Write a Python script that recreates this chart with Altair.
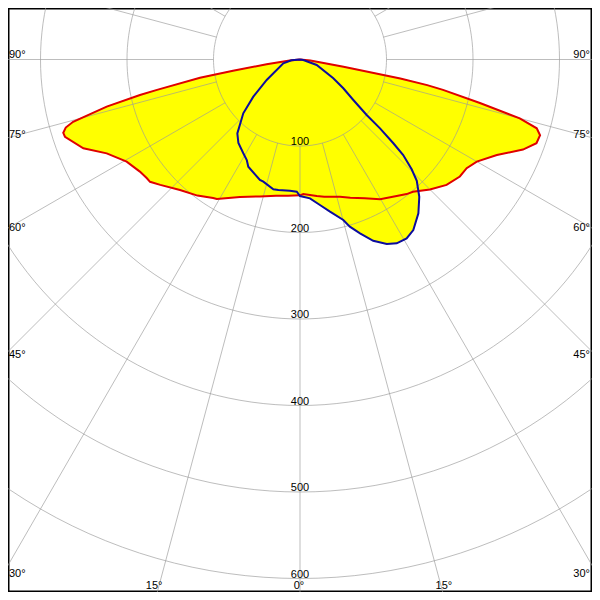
import altair as alt
import pandas as pd
import numpy as np

# ---- Data (angle from nadir in degrees, intensity in cd) ----
# C0 - C180 plane (red, filled yellow)
red_angle = [-90, -85, -81.8, -80.5, -79.7, -78, -77.5, -76.3, -74.65, -73.8, -72.8, -71.8,
             -67.7, -64.1, -59.5, -55, -52.2, -50.8, -48.1, -42.6, -37, -32.1, -30.8, -23.6,
             -16.3, -10, -5, 0, 1.4, 7, 10, 16.25, 20, 25, 29.8, 35.3, 38.4, 40.5, 45, 49.45,
             53.8, 56.9, 60, 64.1, 68, 70.5, 72.5, 73.8, 75, 76.4, 78, 78.6, 79.3, 79.5, 80.6,
             85, 90]
red_cd = [0, 12, 39, 78.5, 117.5, 169, 189.5, 230, 272, 282, 286.5, 286,
          270.7, 248.4, 232.6, 226, 224, 223.7, 217, 205, 197, 189, 187.8, 173.4,
          165, 160, 158, 157, 155.5, 159, 161, 165.2, 170, 177, 186.2, 193.4, 198.5, 201, 212.4, 223,
          229, 230, 236, 253, 278, 290, 291, 285, 263, 214, 169, 150, 118, 98, 51,
          12, 0]

# C90 - C270 plane (blue)
blue_angle = [-90, -85, -77.2, -58.4, -51.45, -46.5, -40.3, -36.4, -31.15, -27.9, -25.75,
              -18.4, -16.7, -11.6, -9.4, -4.4, -1.4, 0, 4.1, 7.8, 11.15, 15.1, 16.6, 19.05,
              22, 25.2, 27.75, 30.8, 33.6, 37.6, 41, 43.9, 45.5, 47.2, 48.1, 49.3, 50.2, 52.8,
              56.4, 60.6, 71.8, 81.4, 90]
blue_cd = [0, 10, 19.8, 45.2, 69, 90.4, 112, 120, 126.7, 131.5, 137.6,
           146.8, 147.5, 153.2, 153, 152.1, 152.9, 157.8, 160.9, 169.8, 179.3, 192.2, 201.7, 212.6,
           226, 235.7, 240.1, 240.7, 236.7, 224.3, 210.2, 194.7, 181, 162.6, 145, 122, 100.3, 77.4,
           60.1, 44.2, 20.3, 3.9, 0]

ring_values = [100, 200, 300, 400, 500, 600]
ring_labels = ["100", "200", "300", "400", "500", "600"]
spoke_angles = list(range(0, 360, 15))
side_label_angles = [90, 75, 60, 45, 30]
side_label_texts = ["90°", "75°", "60°", "45°", "30°"]
bottom_label_angles = [-15, 0, 15]
bottom_label_texts = ["15°", "0°", "15°"]

# ---- geometry of the view ----
PX_PER_CD = 0.865
W = 584
H = 584
XMAX = 292 / PX_PER_CD
YTOP = 51.5 / PX_PER_CD
YBOT = -(532.5) / PX_PER_CD
EDGE_X = 300 / PX_PER_CD     # distance from centre to side frame
EDGE_Y = 540.5 / PX_PER_CD   # distance from centre to bottom frame

xs = alt.Scale(domain=[-XMAX, XMAX], nice=False, zero=False)
ys = alt.Scale(domain=[YBOT, YTOP], nice=False, zero=False)

def polar_calc(ch):
    return ch.transform_calculate(
        x="datum.cd * sin(datum.angle * PI / 180)",
        y="-datum.cd * cos(datum.angle * PI / 180)",
    )

red_df = pd.DataFrame({"angle": red_angle, "cd": red_cd, "i": range(len(red_angle))})
blue_df = pd.DataFrame({"angle": blue_angle, "cd": blue_cd, "i": range(len(blue_angle))})

def curve(df, **mk):
    return polar_calc(alt.Chart(df).mark_line(**mk)).encode(
        x=alt.X("x:Q", scale=xs, axis=None),
        y=alt.Y("y:Q", scale=ys, axis=None),
        order=alt.Order("i:Q"),
    )

red_fill = curve(red_df, fill="#ffff00", stroke="#ffff00", strokeWidth=0.5, clip=True)
blue_fill = curve(blue_df, fill="#ffff00", stroke="#ffff00", strokeWidth=0.5, clip=True)
red_line = curve(red_df, stroke="#e00000", strokeWidth=2, clip=True)
blue_line = curve(blue_df, stroke="#0c0c9e", strokeWidth=2, clip=True)

# grid circles
ring_rows = []
for r in ring_values:
    for k, a in enumerate(range(0, 361, 2)):
        ring_rows.append({"ring": r, "angle": a, "cd": r, "i": k})
ring_df = pd.DataFrame(ring_rows)
rings = polar_calc(alt.Chart(ring_df).mark_line(
    stroke="#999999", strokeOpacity=0.65, strokeWidth=1, clip=True)).encode(
    x=alt.X("x:Q", scale=xs, axis=None),
    y=alt.Y("y:Q", scale=ys, axis=None),
    detail="ring:N",
    order=alt.Order("i:Q"),
)

# radial spokes from 100 cd outward
spoke_df = pd.DataFrame({"angle": spoke_angles})
spokes = alt.Chart(spoke_df).transform_calculate(
    x="100 * sin(datum.angle * PI / 180)",
    y="-100 * cos(datum.angle * PI / 180)",
    x2="900 * sin(datum.angle * PI / 180)",
    y2="-900 * cos(datum.angle * PI / 180)",
).mark_rule(stroke="#999999", strokeOpacity=0.65, strokeWidth=1, clip=True).encode(
    x=alt.X("x:Q", scale=xs, axis=None),
    y=alt.Y("y:Q", scale=ys, axis=None),
    x2="x2:Q",
    y2="y2:Q",
)

FONT = "Liberation Sans"
TXT = dict(font=FONT, fontSize=11, fill="#000000", baseline="alphabetic")

# ring value labels
rl_df = pd.DataFrame({"cd": ring_values, "label": ring_labels})
ring_text = alt.Chart(rl_df).transform_calculate(y="-datum.cd", x="0").mark_text(
    align="center", dy=-1, **TXT
).encode(
    x=alt.X("x:Q", scale=xs, axis=None),
    y=alt.Y("y:Q", scale=ys, axis=None),
    text="label:N",
)

# side angle labels
side_rows = []
for a, t in zip(side_label_angles, side_label_texts):
    yy = -EDGE_X / np.tan(np.radians(a)) if a != 90 else 0.0
    side_rows.append({"x": -XMAX, "y": yy, "label": t, "side": "L"})
    side_rows.append({"x": XMAX, "y": yy, "label": t, "side": "R"})
side_df = pd.DataFrame(side_rows)
left_text = alt.Chart(side_df[side_df.side == "L"]).mark_text(
    align="left", dx=1, dy=-2, **TXT
).encode(x=alt.X("x:Q", scale=xs, axis=None), y=alt.Y("y:Q", scale=ys, axis=None), text="label:N")
right_text = alt.Chart(side_df[side_df.side == "R"]).mark_text(
    align="right", dx=-2, dy=-2, **TXT
).encode(x=alt.X("x:Q", scale=xs, axis=None), y=alt.Y("y:Q", scale=ys, axis=None), text="label:N")

bot_df = pd.DataFrame({
    "x": [EDGE_Y * np.tan(np.radians(a)) for a in bottom_label_angles],
    "y": [YBOT] * len(bottom_label_angles),
    "label": bottom_label_texts,
})
bottom_text = alt.Chart(bot_df).mark_text(
    align="center", dx=-1, dy=-3, **TXT
).encode(x=alt.X("x:Q", scale=xs, axis=None), y=alt.Y("y:Q", scale=ys, axis=None), text="label:N")

chart = alt.layer(
    red_fill, blue_fill, rings, spokes, red_line, blue_line,
    ring_text, left_text, right_text, bottom_text
).properties(
    width=W, height=H, padding=0,
    autosize=alt.AutoSizeParams(type="none"),
    background="white",
).configure_view(stroke="black", strokeWidth=3)

chart.save("out.html", embed_options={"renderer": "svg", "actions": False})
